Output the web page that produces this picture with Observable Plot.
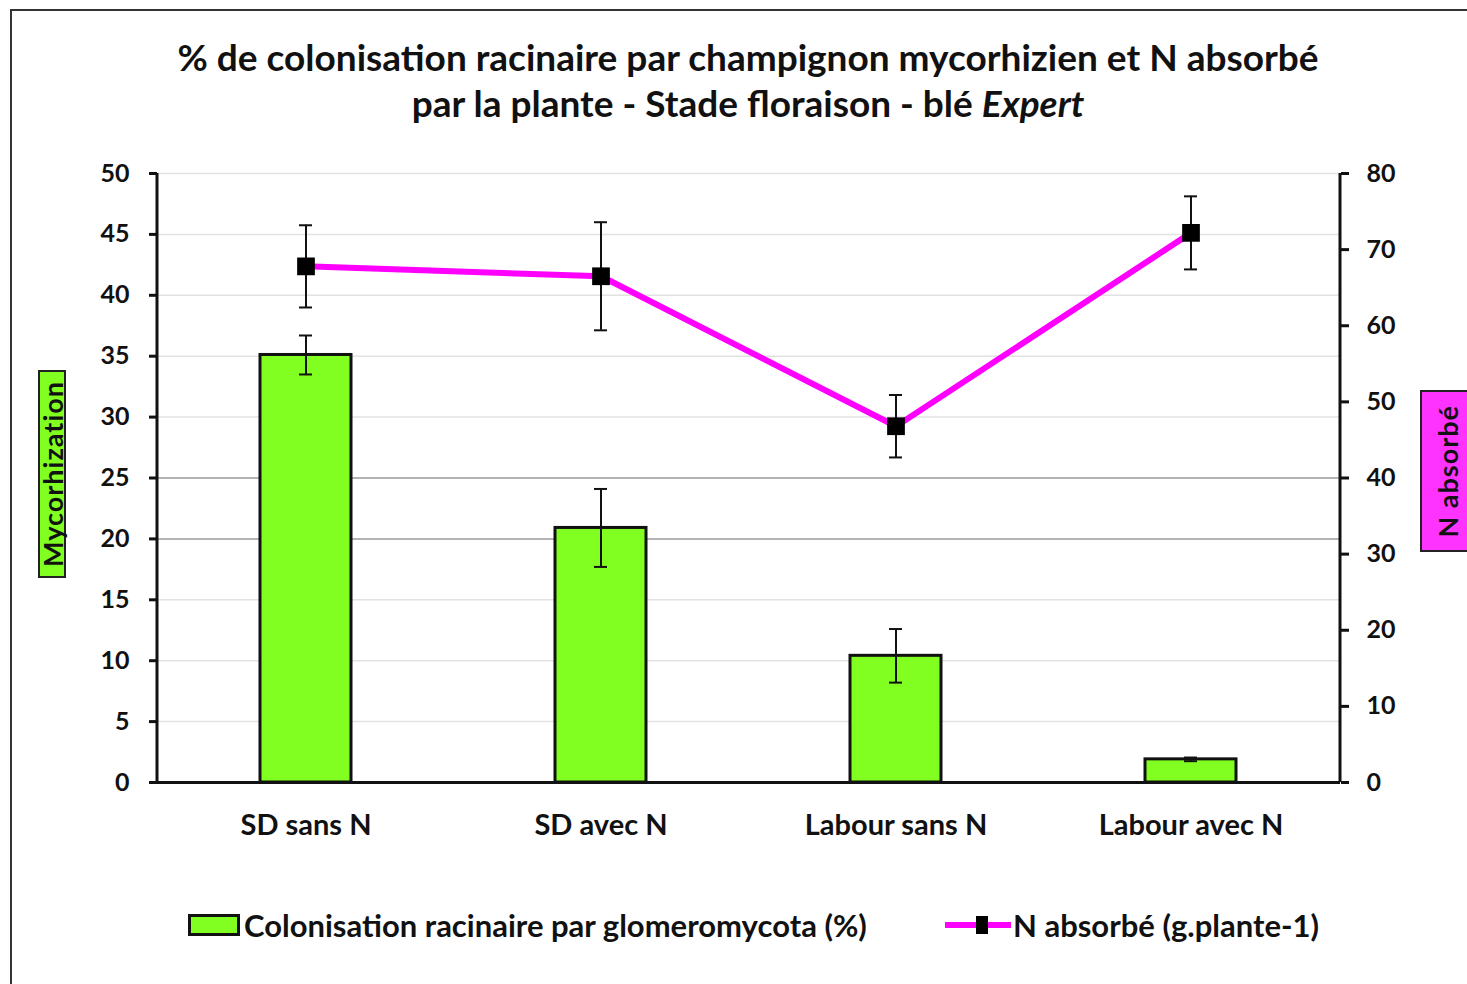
<!DOCTYPE html>
<html>
<head>
<meta charset="utf-8">
<script src="https://cdn.jsdelivr.net/npm/d3@7"></script>
<script src="https://cdn.jsdelivr.net/npm/@observablehq/plot@0.6"></script>
<style>
  body { margin: 0; background: #fff; font-family: Lato, "Open Sans", sans-serif; }
  #wrap { position: relative; width: 1467px; height: 984px; overflow: hidden; background: #fff; }
  #frame { position: absolute; left: 10px; top: 9px; width: 1480px; height: 1000px; border: 2px solid #333; box-sizing: border-box; }
  #chart { position: absolute; left: 0; top: 0; }
  .title { position: absolute; left: 0; width: 1496px; text-align: center; font-weight: bold; font-size: 37px; color: #111; line-height: 47px; white-space: nowrap; }
  .ylab { position: absolute; display: flex; align-items: center; justify-content: center; box-sizing: border-box; border: 2px solid #222; }
  .ylab span { writing-mode: vertical-rl; transform: rotate(180deg); font-weight: bold; font-size: 27px; letter-spacing: 1px; color: #111; white-space: nowrap; }
  .legend { position: absolute; top: 906px; height: 38px; display: flex; align-items: center; font-weight: bold; font-size: 31px; color: #111; white-space: nowrap; }
</style>
</head>
<body>
<div id="wrap">
  <div id="chart"></div>
  <div id="frame"></div>
  <div class="title" id="t1" style="top:33px"></div>
  <div class="title" id="t2" style="top:79px"></div>
  <div class="ylab" id="ylabL" style="left:38px; top:370px; width:28px; height:208px; background:#80ff20;"><span></span></div>
  <div class="ylab" id="ylabR" style="left:1420px; top:390px; width:60px; height:162px; background:#ff33ff; justify-content:flex-start; padding-left:9px;"><span></span></div>
  <div class="legend" id="leg1" style="left:188px;"></div>
  <div class="legend" id="leg2" style="left:945px;"></div>
</div>
<script>
// ---- data ----
const categories = ["SD sans N", "SD avec N", "Labour sans N", "Labour avec N"];
const mycorhization = [35.1, 20.9, 10.4, 1.9];      // % (left axis)
const mycorhizationErr = [1.6, 3.2, 2.2, 0.15];
const nAbsorbe = [67.8, 66.5, 46.8, 72.2];           // g.plante-1 (right axis)
const nAbsorbeErr = [5.4, 7.1, 4.1, 4.8];
const leftTicks = [0, 5, 10, 15, 20, 25, 30, 35, 40, 45, 50];
const rightTicks = [0, 10, 20, 30, 40, 50, 60, 70, 80];
const strongGrid = [20, 25];

const titleLine1 = "% de colonisation racinaire par champignon mycorhizien et N absorbé";
const titleLine2a = "par la plante - Stade floraison - blé ";
const titleLine2b = "Expert";
const leftLabel = "Mycorhization";
const rightLabel = "N absorbé";
const legendBar = "Colonisation racinaire par glomeromycota (%)";
const legendLine = "N absorbé (g.plante-1)";

const barColor = "#80ff20";
const lineColor = "#ff00ff";

// ---- text ----
document.getElementById("t1").textContent = titleLine1;
const t2 = document.getElementById("t2");
t2.append(titleLine2a);
const em = document.createElement("i"); em.textContent = titleLine2b; t2.append(em);
document.querySelector("#ylabL span").textContent = leftLabel;
document.querySelector("#ylabR span").textContent = rightLabel;

document.getElementById("leg1").innerHTML =
  `<span style="display:inline-block;width:52px;height:22px;background:${barColor};border:3px solid #111;box-sizing:border-box;margin-right:4px"></span>`;
document.getElementById("leg1").append(legendBar);
document.getElementById("leg2").innerHTML =
  `<span style="position:relative;display:inline-block;width:66px;height:22px;margin-right:2px">
     <span style="position:absolute;left:0;top:8px;width:66px;height:6px;background:${lineColor}"></span>
     <span style="position:absolute;left:31px;top:2px;width:12px;height:18px;background:#000"></span>
   </span>`;
document.getElementById("leg2").append(legendLine);

// ---- chart ----
const k = 50 / 80; // right-axis units -> left-axis units
const data = categories.map((c, i) => ({
  cat: c, myco: mycorhization[i], me: mycorhizationErr[i], n: nAbsorbe[i], ne: nAbsorbeErr[i]
}));

const plot = Plot.plot({
  width: 1467, height: 984,
  marginLeft: 157, marginRight: 127, marginTop: 173, marginBottom: 202,
  style: { fontFamily: "Lato, 'Open Sans', sans-serif", fontWeight: "bold", fontSize: "25px", color: "#111", background: "transparent", overflow: "visible" },
  x: { domain: categories, paddingInner: 0.69, paddingOuter: 0.345 },
  y: { domain: [0, 50] },
  marks: [
    Plot.gridY(leftTicks, { stroke: "#e2e2e2", strokeOpacity: 1, strokeWidth: 1.5 }),
    Plot.gridY(strongGrid, { stroke: "#b4b4b4", strokeOpacity: 1, strokeWidth: 2 }),
    Plot.barY(data, { x: "cat", y: "myco", fill: barColor, stroke: "#111", strokeWidth: 3 }),
    Plot.ruleX(data, { x: "cat", y1: d => d.myco - d.me, y2: d => d.myco + d.me, stroke: "#111", strokeWidth: 2 }),
    Plot.tickY(data, { x: "cat", y: d => d.myco - d.me, insetLeft: 39, insetRight: 39, stroke: "#111", strokeWidth: 2 }),
    Plot.tickY(data, { x: "cat", y: d => d.myco + d.me, insetLeft: 39, insetRight: 39, stroke: "#111", strokeWidth: 2 }),
    Plot.ruleX(data, { x: "cat", y1: d => (d.n - d.ne) * k, y2: d => (d.n + d.ne) * k, stroke: "#111", strokeWidth: 2 }),
    Plot.tickY(data, { x: "cat", y: d => (d.n - d.ne) * k, insetLeft: 39, insetRight: 39, stroke: "#111", strokeWidth: 2 }),
    Plot.tickY(data, { x: "cat", y: d => (d.n + d.ne) * k, insetLeft: 39, insetRight: 39, stroke: "#111", strokeWidth: 2 }),
    Plot.line(data, { x: "cat", y: d => d.n * k, stroke: lineColor, strokeWidth: 6 }),
    Plot.dot(data, { x: "cat", y: d => d.n * k, symbol: "square", r: 10, fill: "#000", stroke: null }),
    Plot.axisY(leftTicks, { anchor: "left", tickSize: 8, tickPadding: 20, strokeWidth: 3, label: null, fontSize: 25 }),
    Plot.axisY(rightTicks.map(v => v * k), { anchor: "right", tickSize: 8, tickPadding: 18, strokeWidth: 3, label: null, fontSize: 25, tickFormat: d => String(Math.round(d / k)) }),
    Plot.axisX({ tickSize: 0, tickPadding: 32, label: null, fontSize: 29 }),
    Plot.ruleY([0], { stroke: "#111", strokeWidth: 3 })
  ]
});
document.getElementById("chart").append(plot);

// vertical axis lines, from the library's own scales
const xr = plot.scale("x").range, yr = plot.scale("y").range;
const svg = d3.select(plot);
[xr[0], xr[1]].forEach(xp => {
  svg.append("line").attr("x1", xp).attr("x2", xp).attr("y1", yr[0]).attr("y2", yr[1])
    .attr("stroke", "#111").attr("stroke-width", 3);
});
</script>
</body>
</html>
